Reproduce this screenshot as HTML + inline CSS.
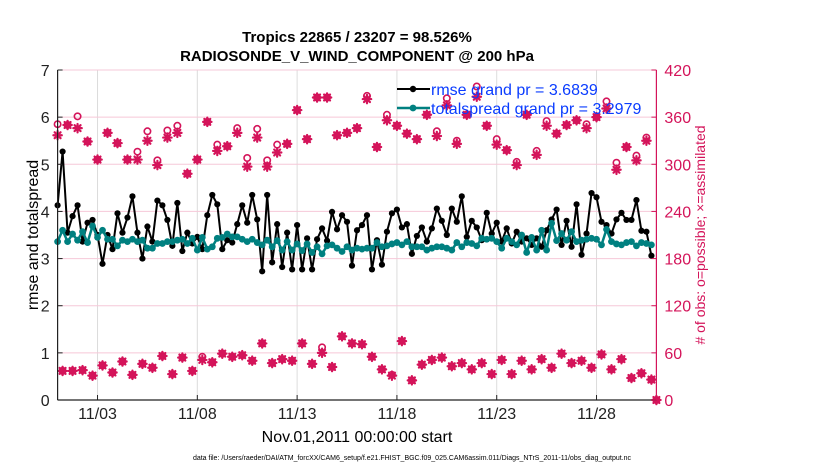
<!DOCTYPE html>
<html><head><meta charset="utf-8">
<style>
html,body{margin:0;padding:0;background:#fff;}
svg{display:block;font-family:"Liberation Sans",Arial,sans-serif;}
</style></head>
<body>
<svg id="chart" width="830" height="470" viewBox="0 0 830 470" xmlns="http://www.w3.org/2000/svg">
<text x="357" y="42" text-anchor="middle" font-size="15" font-weight="bold">Tropics 22865 / 23207 = 98.526%</text>
<text x="357" y="61" text-anchor="middle" font-size="15" font-weight="bold">RADIOSONDE_V_WIND_COMPONENT @ 200 hPa</text>
<g id="grid"></g>
<g id="obs"></g>
<g id="lines"></g>
<g id="axes"></g>
<g>
  <line x1="397" y1="89" x2="430" y2="89" stroke="#000" stroke-width="2"/>
  <circle cx="413" cy="89" r="3.2" fill="#000"/>
  <text x="431" y="95" font-size="16" fill="#0a3cff">rmse grand pr = 3.6839</text>
  <line x1="397" y1="108" x2="430" y2="108" stroke="#008080" stroke-width="2.5"/>
  <circle cx="413" cy="108" r="3.4" fill="#008080"/>
  <text x="431" y="114" font-size="16" fill="#0a3cff">totalspread grand pr = 3.2979</text>
</g>
<text transform="translate(38,235) rotate(-90)" text-anchor="middle" font-size="16">rmse and totalspread</text>
<text transform="translate(705,235) rotate(-90)" text-anchor="middle" font-size="14" fill="#d4145a"># of obs: o=possible; ×=assimilated</text>
<text x="357" y="442" text-anchor="middle" font-size="16">Nov.01,2011 00:00:00 start</text>
<text x="412" y="460" text-anchor="middle" font-size="7">data file: /Users/raeder/DAI/ATM_forcXX/CAM6_setup/f.e21.FHIST_BGC.f09_025.CAM6assim.011/Diags_NTrS_2011-11/obs_diag_output.nc</text>
</svg>
<script>
// ---- data ----
const rmse = [4.13,5.27,3.55,3.9,4.13,3.36,3.76,3.82,3.5,2.89,3.5,3.2,3.96,3.55,3.87,4.32,3.55,3.0,3.68,3.36,4.23,4.13,3.82,3.27,4.18,3.16,3.55,3.32,3.46,3.2,3.92,
4.35,4.15,3.2,3.39,3.34,3.73,4.13,3.76,4.35,3.83,2.73,4.35,2.92,3.73,2.82,3.55,2.77,3.71,2.77,3.43,2.77,3.41,3.64,3.38,3.99,3.62,3.92,3.78,2.85,3.6,
3.71,3.92,2.77,3.39,2.87,3.57,3.96,4.04,3.66,3.73,3.1,3.48,3.66,3.36,3.64,4.06,3.8,3.5,4.06,3.78,4.32,3.46,3.8,3.66,3.39,3.97,3.53,3.76,3.36,3.64,
3.32,3.57,3.36,3.43,3.29,3.43,3.25,3.6,3.83,4.04,3.29,3.8,3.25,4.15,3.08,3.53,4.39,4.3,3.78,3.71,3.53,3.83,3.97,3.82,3.82,4.24,3.59,3.57,3.06];
const spread = [3.36,3.6,3.36,3.52,3.39,3.57,3.34,3.69,3.45,3.6,3.41,3.41,3.27,3.39,3.36,3.41,3.36,3.39,3.22,3.22,3.32,3.32,3.36,3.36,3.39,3.41,3.32,3.43,3.18,3.45,3.2,
3.25,3.43,3.45,3.52,3.46,3.46,3.41,3.36,3.41,3.34,3.29,3.39,3.25,3.38,3.18,3.36,3.18,3.31,3.17,3.31,3.13,3.25,3.1,3.27,3.29,3.22,3.15,3.25,3.18,3.22,
3.2,3.22,3.22,3.34,3.25,3.27,3.31,3.34,3.29,3.36,3.25,3.25,3.25,3.18,3.22,3.25,3.25,3.22,3.18,3.34,3.25,3.34,3.32,3.27,3.43,3.41,3.43,3.36,3.22,3.43,
3.36,3.29,3.5,3.13,3.45,3.18,3.6,3.18,3.75,3.38,3.53,3.39,3.57,3.36,3.39,3.41,3.43,3.41,3.29,3.62,3.36,3.31,3.29,3.34,3.36,3.27,3.34,3.32,3.29];
// 00Z/12Z counts (even 6-hour steps), last entry = final step
const synAssim = [337,350,346,329,306,340,327,306,306,330,299,334,340,288,306,354,317,323,340,297,334,297,315,326,369,332,385,385,337,340,
346,383,322,356,349,339,332,363,336,375,326,363,386,349,325,318,299,363,312,349,339,350,356,346,360,371,293,322,305,330,0];
const synPoss = [351,350,361,329,306,340,327,306,316,342,305,343,349,288,306,354,325,323,346,308,345,305,325,326,369,332,385,385,337,340,
346,387,322,363,349,339,332,363,342,384,330,363,399,349,332,318,303,363,317,355,339,350,356,351,360,380,302,322,311,334,0];
// 06Z/18Z counts (odd 6-hour steps)
const offAssim = [37,37,38,31,44,35,49,32,46,41,56,33,54,37,51,48,59,55,57,50,72,47,52,50,72,46,60,42,81,72,
71,55,39,31,75,25,45,51,54,43,47,39,47,33,51,33,50,39,52,41,59,47,50,41,58,39,52,28,34,26];
const offPoss = [37,37,38,31,44,35,49,32,46,41,56,33,54,37,55,48,59,55,57,50,72,47,52,50,72,46,67,42,81,72,
71,55,39,32,75,25,45,51,54,43,47,39,47,33,51,33,50,39,52,41,59,47,50,41,58,39,52,28,34,26];
const yTicks = [0,1,2,3,4,5,6,7];
const y2Ticks = [0,60,120,180,240,300,360,420];
const xTickDays = [2,7,12,17,22,27];
const xTickLabels = ["11/03","11/08","11/13","11/18","11/23","11/28"];

// ---- scales ----
const X0=57.6, X1=656.4, Y0=400, Y1=70;
const xs = d => X0 + (X1-X0)*d/30;
const ys = v => Y0 - (Y0-Y1)*v/7;
const ys2 = c => Y0 - (Y0-Y1)*c/420;
const NS="http://www.w3.org/2000/svg";
function mk(tag, attrs, parent){const e=document.createElementNS(NS,tag);for(const k in attrs)e.setAttribute(k,attrs[k]);parent.appendChild(e);return e;}
const grid=document.getElementById('grid'), axes=document.getElementById('axes'), obs=document.getElementById('obs'), lines=document.getElementById('lines');
const CR="#d4145a";

// grid
xTickDays.forEach((d,i)=>{
  const g=mk('line',{x1:xs(d),x2:xs(d),y1:Y1,y2:Y0,stroke:'#dcdcdc','stroke-width':1},grid);
  
  
});
yTicks.forEach(v=>{
  const g=mk('line',{x1:X0,x2:X1,y1:ys(v),y2:ys(v),stroke:'#f6c8d8','stroke-width':1},grid);
  
  
});

// obs markers
function star(cx,cy,parent){
  const g=mk('g',{stroke:CR,'stroke-width':2.2,'stroke-linecap':'round'},parent);
  const r=4.2;
  for(let a=0;a<4;a++){const t=a*Math.PI/4;mk('line',{x1:cx-r*Math.cos(t),y1:cy-r*Math.sin(t),x2:cx+r*Math.cos(t),y2:cy+r*Math.sin(t)},g);}
  mk('circle',{cx:cx,cy:cy,r:2.6,fill:CR,stroke:'none'},g);
  return g;
}
function ring(cx,cy,parent){return mk('circle',{cx:cx,cy:cy,r:3.2,fill:'none',stroke:CR,'stroke-width':1.6},parent);}
synPoss.forEach((c,i)=>{const e=ring(xs(i*0.5),ys2(c),obs);
  
  });
offPoss.forEach((c,i)=>{const e=ring(xs(i*0.5+0.25),ys2(c),obs);
  
  });
synAssim.forEach((c,i)=>{const e=star(xs(i*0.5),ys2(c),obs);
  
  });
offAssim.forEach((c,i)=>{const e=star(xs(i*0.5+0.25),ys2(c),obs);
  
  });

// lines
function series(vals,color,w,r,name){
  const pts=vals.map((v,i)=>xs(i*0.25)+','+ys(v)).join(' ');
  const pl=mk('polyline',{points:pts,fill:'none',stroke:color,'stroke-width':w,'stroke-linejoin':'round'},lines);
  
  
  vals.forEach((v,i)=>{const c=mk('circle',{cx:xs(i*0.25),cy:ys(v),r:r,fill:color},lines);
    
    });
}
series(rmse,'#000',2,3.1,'rmse');
series(spread,'#008080',2.5,3.4,'totalspread');

// axes
let a=mk('line',{x1:X0,x2:X0,y1:Y1,y2:Y0,stroke:'#222','stroke-width':1.2},axes);


a=mk('line',{x1:X0,x2:X1,y1:Y0,y2:Y0,stroke:'#222','stroke-width':1.2},axes);


a=mk('line',{x1:X1,x2:X1,y1:Y1,y2:Y0,stroke:CR,'stroke-width':1.2},axes);


yTicks.forEach(v=>{
  mk('line',{x1:X0,x2:X0+5,y1:ys(v),y2:ys(v),stroke:'#222'},axes);
  const t=mk('text',{x:X0-8,y:ys(v)+6,'text-anchor':'end','font-size':16,fill:'#222'},axes);t.textContent=v;
  
  
});
y2Ticks.forEach(c=>{
  mk('line',{x1:X1-5,x2:X1,y1:ys2(c),y2:ys2(c),stroke:CR},axes);
  const t=mk('text',{x:X1+8,y:ys2(c)+6,'font-size':16,fill:CR},axes);t.textContent=c;
  
  
});
xTickDays.forEach((d,i)=>{
  mk('line',{x1:xs(d),x2:xs(d),y1:Y0,y2:Y0-5,stroke:'#222'},axes);
  const t=mk('text',{x:xs(d),y:Y0+19,'text-anchor':'middle','font-size':16,fill:'#222'},axes);t.textContent=xTickLabels[i];
  
  
});
</script>
</body></html>
